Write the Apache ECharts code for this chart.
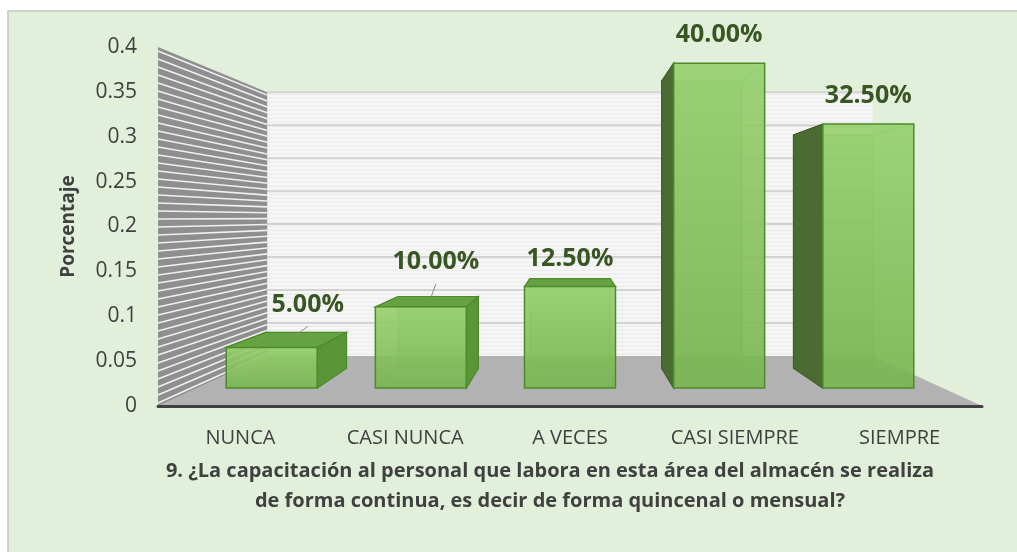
<!DOCTYPE html>
<html>
<head>
<meta charset="utf-8">
<script src="https://cdn.jsdelivr.net/npm/echarts@6/dist/echarts.min.js"></script>
<style>
  html, body { margin: 0; padding: 0; background: #fff; }
  #main { width: 1017px; height: 552px; }
</style>
</head>
<body>
<div id="main"></div>
<script>
var categories = ['NUNCA', 'CASI NUNCA', 'A VECES', 'CASI SIEMPRE', 'SIEMPRE'];
var values = [0.05, 0.10, 0.125, 0.40, 0.325];
var axisMin = 0, axisMax = 0.4, axisStep = 0.05;
var axisTitle = 'Porcentaje';
var chartTitle = '9. ¿La capacitación al personal que labora en esta área del almacén se realiza\nde forma continua, es decir de forma quincenal o mensual?';

// 3d look: how much each plane shrinks toward the vanishing point
var WALL = 0.735, FRONT = 0.905, BACK = 0.8;
var BAR_W = 0.61;
var FONT = '"Open Sans", sans-serif';
// the first two labels were dragged by hand in the original
var labelNudge = { 0: [36, -15], 1: [15, -17] };

var chart = echarts.init(document.getElementById('main'));

function vanish(params, api) {
  var cs = params.coordSys;
  return [cs.x + cs.width / 2, api.coord([0, 0.21])[1]];
}
function proj(v, p, s) {
  return [v[0] + s * (p[0] - v[0]), v[1] + s * (p[1] - v[1])];
}
function poly(pts, fill, stroke, lw) {
  return { type: 'polygon', shape: { points: pts }, style: { fill: fill, stroke: stroke || null, lineWidth: lw || 0 } };
}
function seg(a, b, stroke, lw) {
  return { type: 'line', shape: { x1: a[0], y1: a[1], x2: b[0], y2: b[1] }, style: { stroke: stroke, lineWidth: lw } };
}

//墙和地板
function renderWalls(params, api) {
  var cs = params.coordSys, v = vanish(params, api);
  var x0 = cs.x, x1 = cs.x + cs.width, y0 = cs.y, y1 = cs.y + cs.height;
  var bTL = proj(v, [x0, y0], WALL), bTR = proj(v, [x1, y0], WALL);
  var bBL = proj(v, [x0, y1], WALL), bBR = proj(v, [x1, y1], WALL);
  var kids = [];

  kids.push(poly([bTL, bTR, bBR, bBL], '#f6f6f6'));
  for (var y = bTL[1] + 2; y < bBL[1]; y += 4) {
    kids.push(seg([bTL[0], y], [bTR[0], y], '#e9e9e9', 1));
  }
  for (var t = axisMin + axisStep; t <= axisMax + 1e-9; t += axisStep) {
    var p = proj(v, [x0, api.coord([0, t])[1]], WALL);
    kids.push(seg(p, [bTR[0], p[1]], '#d3d3d3', 2));
  }

  kids.push(poly([[x0, y1], [x1, y1], bBR, bBL], '#b2b2b2'));

  kids.push(poly([[x0, y0], bTL, bBL, [x0, y1]], '#8f8f8f'));
  for (var yy = y0 + 4; yy < y1; yy += 8) {
    kids.push(seg([x0, yy], proj(v, [x0, yy], WALL), '#f0f0f0', 1.6));
  }
  return { type: 'group', children: kids };
}

function renderBar(params, api) {
  var v = vanish(params, api);
  var i = api.value(0), val = api.value(1);
  var base = api.coord([i, 0]), top = api.coord([i, val]);
  var hw = api.size([1, 0])[0] * BAR_W / 2;
  var L = base[0] - hw, R = base[0] + hw, T = top[1], B = base[1];
  var fTL = proj(v, [L, T], FRONT), fTR = proj(v, [R, T], FRONT);
  var fBL = proj(v, [L, B], FRONT), fBR = proj(v, [R, B], FRONT);
  var bTL = proj(v, [L, T], BACK), bTR = proj(v, [R, T], BACK);
  var bBL = proj(v, [L, B], BACK), bBR = proj(v, [R, B], BACK);
  var edge = '#4d8a2a', inner = '#78b553';
  var kids = [];

  // hidden edges, seen through the front face
  kids.push(poly([bTL, bTR, bBR, bBL], 'rgba(112,173,71,0.4)', inner, 1));
  kids.push(seg(fTL, bTL, inner, 1), seg(fTR, bTR, inner, 1), seg(fBL, bBL, inner, 1), seg(fBR, bBR, inner, 1));

  if (R < v[0]) kids.push(poly([fTR, bTR, bBR, fBR], '#5a9537', edge, 1.2));
  if (L > v[0]) kids.push(poly([fTL, bTL, bBL, fBL], '#4a6c32', '#3f5f2a', 1.2));
  if (T > v[1]) kids.push(poly([fTL, fTR, bTR, bTL], '#64a242', edge, 1.2));

  kids.push({
    type: 'rect',
    shape: { x: fTL[0], y: fTL[1], width: fTR[0] - fTL[0], height: fBL[1] - fTL[1] },
    style: {
      fill: new echarts.graphic.LinearGradient(0, 0, 0, 1, [
        { offset: 0, color: 'rgba(150,208,110,0.9)' },
        { offset: 1, color: 'rgba(120,180,80,0.9)' }
      ]),
      stroke: edge, lineWidth: 1.5
    }
  });

  var nudge = labelNudge[i] || [0, 0];
  var lx = (fTL[0] + fTR[0]) / 2 + nudge[0];
  var ly = fTL[1] - 28 + nudge[1];
  if (labelNudge[i]) {
    var c = proj(v, [base[0], T], (FRONT + BACK) / 2);
    var s = [lx, ly + 22];
    kids.push(seg(s, [s[0] + 0.7 * (c[0] - s[0]), s[1] + 0.7 * (c[1] - s[1])], '#8c8c8c', 1));
  }
  kids.push({
    type: 'text', x: lx, y: ly,
    style: {
      text: (val * 100).toFixed(2) + '%',
      fill: '#375623', fontSize: 25, fontWeight: 'bold', fontFamily: FONT,
      align: 'center', verticalAlign: 'middle'
    }
  });
  return { type: 'group', children: kids };
}

chart.setOption({
  backgroundColor: '#fff',
  animation: false,
  graphic: [{
    type: 'rect', z: -10,
    shape: { x: 8, y: 11, width: 1020, height: 550 },
    style: { fill: '#e2efda', stroke: '#c4c8c0', lineWidth: 1.5 }
  }],
  grid: { left: 158, right: 35, top: 47, bottom: 146 },
  xAxis: {
    type: 'category',
    data: categories,
    z: 10,
    axisLine: { show: true, lineStyle: { color: '#404040', width: 3 } },
    axisTick: { show: false },
    axisLabel: { color: '#404040', fontSize: 20, fontFamily: FONT, margin: 22, interval: 0 },
    name: chartTitle,
    nameLocation: 'middle',
    nameGap: 50,
    nameTextStyle: {
      color: '#404040', fontSize: 20, fontWeight: 'bold', fontFamily: FONT, lineHeight: 30,
      padding: [0, 40, 0, 0]
    }
  },
  yAxis: {
    type: 'value',
    min: axisMin, max: axisMax, interval: axisStep,
    axisLine: { show: false },
    axisTick: { show: false },
    splitLine: { show: false },
    axisLabel: { color: '#404040', fontSize: 21, fontFamily: FONT, margin: 21 },
    name: axisTitle,
    nameLocation: 'middle',
    nameGap: 80,
    nameTextStyle: { color: '#404040', fontSize: 19, fontWeight: 'bold', fontFamily: FONT }
  },
  series: [
    {
      type: 'custom', silent: true, z: 1, clip: false,
      renderItem: renderWalls,
      data: [[0, 0]]
    },
    {
      type: 'custom', z: 2, clip: false,
      renderItem: renderBar,
      encode: { x: 0, y: 1 },
      data: values.map(function (v, i) { return [i, v]; })
    }
  ]
});
</script>
</body>
</html>
